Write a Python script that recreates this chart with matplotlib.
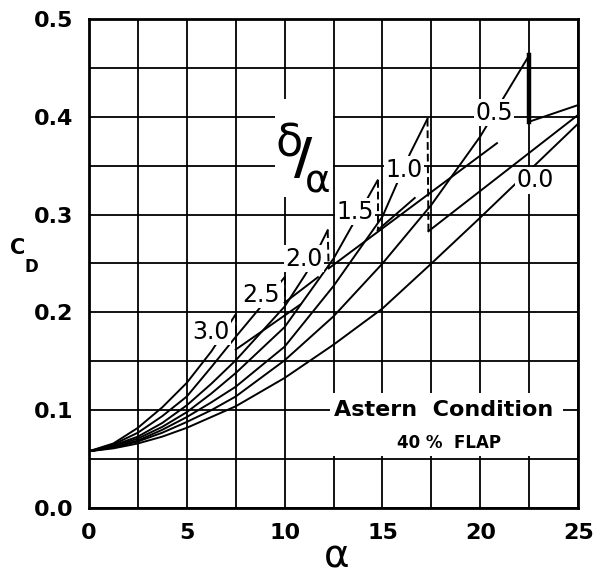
import matplotlib
matplotlib.use("Agg")
import matplotlib.pyplot as plt
import numpy as np

# pre-stall curves, one per delta/alpha ratio
a_00 = [0, 1.25, 2.5, 3.75, 5, 7.5, 10, 12.5, 15, 17.5, 20, 22.5, 25]
cd_00 = [0.058, 0.061, 0.066, 0.073, 0.082, 0.104, 0.133, 0.167, 0.204, 0.250, 0.297, 0.345, 0.393]

a_05 = [0, 1.25, 2.5, 3.75, 5, 6.25, 7.5, 10, 12.5, 15, 17.5, 20, 22.5]
cd_05 = [0.058, 0.062, 0.068, 0.077, 0.088, 0.100, 0.114, 0.151, 0.196, 0.250, 0.310, 0.380, 0.463]

a_10 = [0, 1.25, 2.5, 3.75, 5, 6.25, 7.5, 10, 12.5, 15, 16.4, 17.3]
cd_10 = [0.058, 0.062, 0.069, 0.080, 0.093, 0.108, 0.124, 0.165, 0.227, 0.298, 0.362, 0.398]

a_15 = [0, 1.25, 2.5, 3.75, 5, 6.25, 7.5, 10, 12.5, 14.75]
cd_15 = [0.058, 0.063, 0.071, 0.083, 0.098, 0.117, 0.138, 0.185, 0.255, 0.335]

a_20 = [0, 1.25, 2.5, 3.75, 5, 6.25, 7.5, 10, 11.1, 12.2]
cd_20 = [0.058, 0.064, 0.073, 0.087, 0.105, 0.127, 0.151, 0.206, 0.240, 0.284]

a_25 = [0, 1.25, 2.5, 3.75, 5, 6.25, 7.5, 8.75, 10]
cd_25 = [0.058, 0.065, 0.077, 0.094, 0.114, 0.144, 0.175, 0.205, 0.236]

a_30 = [0, 1.25, 2.5, 3.75, 5, 6.25, 7.5]
cd_30 = [0.058, 0.066, 0.082, 0.103, 0.128, 0.160, 0.198]

# post-stall segments (start after the drop)
post_30 = ([7.5, 10.8], [0.162, 0.208])
post_25 = ([10.0, 11.7], [0.210, 0.236])
post_20 = ([12.25, 20.85], [0.245, 0.373])
post_15 = ([14.75, 16.65], [0.284, 0.317])
post_10 = ([17.35, 25.0], [0.283, 0.402])
post_05 = ([22.5, 25.0], [0.395, 0.412])

curves = [(a_00, cd_00), (a_05, cd_05), (a_10, cd_10), (a_15, cd_15),
          (a_20, cd_20), (a_25, cd_25), (a_30, cd_30)]
posts = [post_30, post_25, post_20, post_15, post_10, post_05]

labels = ["0.0", "0.5", "1.0", "1.5", "2.0", "2.5", "3.0"]
label_a = [22.8, 20.7, 16.1, 13.6, 11.0, 8.8, 6.25]
label_cd = [0.335, 0.404, 0.346, 0.303, 0.255, 0.218, 0.180]

fig = plt.figure(figsize=(6.01, 5.75), dpi=100)
ax = fig.add_axes([0.148, 0.1165, 0.814, 0.8505])
ax.set_xlim(0, 25)
ax.set_ylim(0, 0.5)

ax.set_xticks(np.arange(0, 26, 5))
ax.set_xticklabels([str(v) for v in range(0, 26, 5)])
ax.set_yticks(np.arange(0, 0.51, 0.1))
ax.set_yticklabels(["0.0", "0.1", "0.2", "0.3", "0.4", "0.5"])
ax.set_xticks(np.arange(0, 25.1, 2.5), minor=True)
ax.set_yticks(np.arange(0, 0.51, 0.05), minor=True)
ax.grid(which="both", color="black", lw=1.3, zorder=1)
ax.set_axisbelow(True)
ax.tick_params(which="both", length=0)
ax.tick_params(axis="y", pad=11, labelsize=16)
ax.tick_params(axis="x", pad=11, labelsize=16)
for t in ax.get_xticklabels() + ax.get_yticklabels():
    t.set_fontweight("bold")
for s in ax.spines.values():
    s.set_linewidth(2)

for a, cd in curves:
    ax.plot(a, cd, color="black", lw=1.4, zorder=3)
for a, cd in posts:
    ax.plot(a, cd, color="black", lw=1.4, zorder=3)

# drops at stall
for (a, cd), (pa, pcd) in zip(curves[1:][::-1], posts):
    ax.plot([a[-1], pa[0]], [cd[-1], pcd[0]], color="black", lw=1.4,
            ls=(0, (4, 2)), zorder=3)
ax.plot([a_05[-1], post_05[0][0]], [cd_05[-1], post_05[1][0]],
        color="black", lw=3.2, zorder=3)

for lab, x, y in zip(labels, label_a, label_cd):
    ax.text(x, y, lab, fontsize=17, ha="center", va="center", zorder=5,
            bbox=dict(facecolor="white", edgecolor="none", pad=1))

# delta / alpha marker on a white patch
ax.add_patch(plt.Rectangle((9.5, 0.318), 2.95, 0.1, facecolor="white",
                           edgecolor="none", zorder=2))
ax.text(10.25, 0.372, "δ", fontsize=32, ha="center", va="center", zorder=5)
ax.text(10.95, 0.357, "/", fontsize=36, ha="center", va="center", zorder=5,
        fontweight="bold")
ax.text(11.7, 0.334, "α", fontsize=28, ha="center", va="center", zorder=5)

ax.add_patch(plt.Rectangle((12.3, 0.053), 11.9, 0.065, facecolor="white",
                           edgecolor="none", zorder=2))
ax.text(18.1, 0.1, "Astern  Condition", fontsize=16, fontweight="bold",
        ha="center", va="center", zorder=5)
ax.text(18.4, 0.066, "40 %  FLAP", fontsize=12, fontweight="bold",
        ha="center", va="center", zorder=5)

ax.text(-0.145, 0.532, "C", fontsize=15, fontweight="bold", ha="center",
        va="center", transform=ax.transAxes)
ax.text(-0.117, 0.493, "D", fontsize=12, fontweight="bold", ha="center",
        va="center", transform=ax.transAxes)
ax.text(0.507, -0.1, "α", fontsize=28, ha="center", va="center",
        transform=ax.transAxes)

fig.savefig("out.png", dpi=100)
